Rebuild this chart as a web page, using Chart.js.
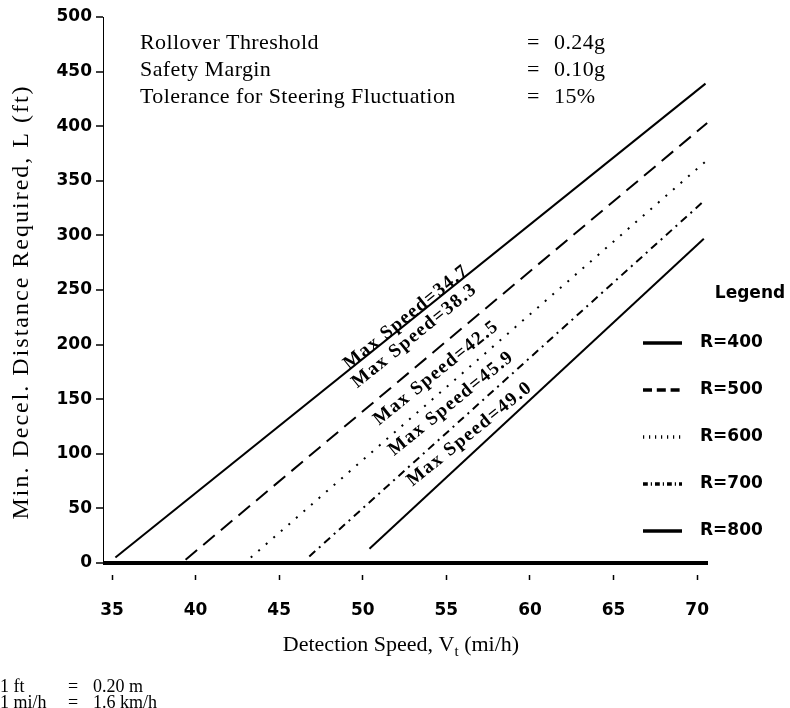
<!DOCTYPE html>
<html>
<head>
<meta charset="utf-8">
<script src="https://cdn.jsdelivr.net/npm/chart.js@4.4.1/dist/chart.umd.min.js"></script>
<style>
  html, body { margin: 0; padding: 0; background: #fff; }
</style>
</head>
<body>
<canvas id="decelChart" width="790" height="708"></canvas>
<script>
// series (detection speed mi/h -> distance ft)
const radii = ['R=400', 'R=500', 'R=600', 'R=700', 'R=800'];
const maxSpeeds = ['34.7', '38.3', '42.5', '45.9', '49.0'];

const speedR400 = [35.2, 70.5];
const distR400 = [5, 439];
const speedR500 = [39.4, 70.6];
const distR500 = [3, 403];
const speedR600 = [43.3, 70.6];
const distR600 = [5, 369];
const speedR700 = [46.8, 70.3];
const distR700 = [6, 330];
const speedR800 = [50.4, 70.4];
const distR800 = [13, 297];

const xTicks = [35, 40, 45, 50, 55, 60, 65, 70];
const yTicks = [0, 50, 100, 150, 200, 250, 300, 350, 400, 450, 500];

// where the "Max Speed=" notes sit, in data units
const labelAt = [[52.6, 225], [53.1, 208], [54.4, 174], [55.3, 146], [56.4, 118]];

const noteNames = ['Rollover Threshold', 'Safety Margin', 'Tolerance for Steering Fluctuation'];
const noteValues = ['0.24g', '0.10g', '15%'];
const unitNames = ['1 ft', '1 mi/h'];
const unitValues = ['0.20 m', '1.6 km/h'];

const dashes = [[], [15, 8], [2, 8], [8, 5, 2, 5], []];

function pts(xs, ys) {
    return xs.map((v, i) => ({ x: v, y: ys[i] }));
}

const seriesData = [
    pts(speedR400, distR400),
    pts(speedR500, distR500),
    pts(speedR600, distR600),
    pts(speedR700, distR700),
    pts(speedR800, distR800)
];

const serif = '"Liberation Serif", "Times New Roman", serif';
const sans = '"DejaVu Sans", Arial, sans-serif';

const textPlugin = {
    id: 'figureText',
    afterDraw(chart) {
        const { ctx, scales: { x, y } } = chart;
        ctx.save();
        ctx.fillStyle = '#000';
        ctx.strokeStyle = '#000';

        // rotated max speed notes along the lines
        ctx.font = 'bold 19px ' + serif;
        ctx.letterSpacing = '1.5px';
        ctx.textAlign = 'center';
        ctx.textBaseline = 'middle';
        labelAt.forEach((p, i) => {
            ctx.save();
            ctx.translate(x.getPixelForValue(p[0]), y.getPixelForValue(p[1]));
            ctx.rotate(-39 * Math.PI / 180);
            ctx.fillText('Max Speed=' + maxSpeeds[i], 0, 0);
            ctx.restore();
        });
        ctx.letterSpacing = '0px';

        // parameter notes at top
        ctx.font = '22px ' + serif;
        ctx.letterSpacing = '0.4px';
        ctx.textAlign = 'left';
        noteNames.forEach((n, i) => {
            const ty = 43 + i * 27;
            ctx.fillText(n, 140, ty);
            ctx.fillText('=', 527, ty);
            ctx.fillText(noteValues[i], 554, ty);
        });
        ctx.letterSpacing = '0px';

        // unit conversions at bottom left
        ctx.font = '18px ' + serif;
        unitNames.forEach((n, i) => {
            const ty = 687 + i * 16;
            ctx.fillText(n, 0, ty);
            ctx.fillText('=', 68, ty);
            ctx.fillText(unitValues[i], 93, ty);
        });

        // x axis title with subscript
        const a = 'Detection Speed, V', b = ' (mi/h)';
        ctx.font = '22px ' + serif;
        const wa = ctx.measureText(a).width, wb = ctx.measureText(b).width;
        ctx.font = '15px ' + serif;
        const ws = ctx.measureText('t').width;
        const tx = 401 - (wa + ws + wb) / 2;
        ctx.font = '22px ' + serif;
        ctx.fillText(a, tx, 645);
        ctx.font = '15px ' + serif;
        ctx.fillText('t', tx + wa, 652);
        ctx.font = '22px ' + serif;
        ctx.fillText(b, tx + wa + ws, 645);

        // y axis title
        ctx.save();
        ctx.translate(22, 302);
        ctx.rotate(-Math.PI / 2);
        ctx.textAlign = 'center';
        ctx.font = '24px ' + serif;
        ctx.letterSpacing = '2px';
        ctx.fillText('Min. Decel. Distance Required, L (ft)', 0, 0);
        ctx.restore();

        // legend block
        ctx.font = 'bold 17px ' + sans;
        ctx.textAlign = 'center';
        ctx.fillText('Legend', 750, 294);
        ctx.textAlign = 'left';
        radii.forEach((r, i) => {
            const ly = 343 + i * 47;
            ctx.lineWidth = 3.5;
            ctx.setLineDash(dashes[i].length ? dashes[i].map(d => d * 0.6) : []);
            ctx.beginPath();
            ctx.moveTo(643, ly);
            ctx.lineTo(682, ly);
            ctx.stroke();
            ctx.setLineDash([]);
            ctx.fillText(r, 700, ly);
        });
        ctx.restore();
    }
};

new Chart(document.getElementById('decelChart'), {
    type: 'scatter',
    data: {
        datasets: seriesData.map((d, i) => ({
            label: radii[i],
            data: d,
            showLine: true,
            borderColor: '#000',
            borderWidth: 2,
            borderDash: dashes[i],
            pointRadius: 0,
            fill: false
        }))
    },
    options: {
        responsive: false,
        animation: false,
        devicePixelRatio: 1,
        layout: { padding: { top: 17, right: 82, bottom: 0, left: 0 } },
        plugins: {
            legend: { display: false },
            tooltip: { enabled: false }
        },
        scales: {
            x: {
                type: 'linear',
                min: 34.46,
                max: 70.65,
                afterBuildTicks: s => { s.ticks = xTicks.map(v => ({ value: v })); },
                afterFit: s => { s.height = 145; },
                border: { display: false },
                grid: {
                    drawOnChartArea: false,
                    tickLength: 18,
                    tickColor: '#000',
                    tickWidth: 1.5,
                    tickBorderDash: [0, 12, 5, 30]
                },
                ticks: {
                    color: '#000',
                    padding: 19,
                    maxRotation: 0,
                    font: { family: sans, size: 17, weight: 'bold' }
                }
            },
            y: {
                type: 'linear',
                min: 0,
                max: 500,
                afterBuildTicks: s => { s.ticks = yTicks.map(v => ({ value: v })); },
                afterFit: s => { s.width = 103; },
                border: { display: true, color: '#000', width: 1 },
                grid: {
                    color: c => (c.tick && c.tick.value === 0 ? '#000' : 'rgba(0,0,0,0)'),
                    lineWidth: c => (c.tick && c.tick.value === 0 ? 4 : 0),
                    tickLength: 7,
                    tickColor: '#000',
                    tickWidth: 1.5
                },
                ticks: {
                    color: '#000',
                    padding: 4,
                    font: { family: sans, size: 17, weight: 'bold' }
                }
            }
        }
    },
    plugins: [textPlugin]
});
</script>
</body>
</html>
